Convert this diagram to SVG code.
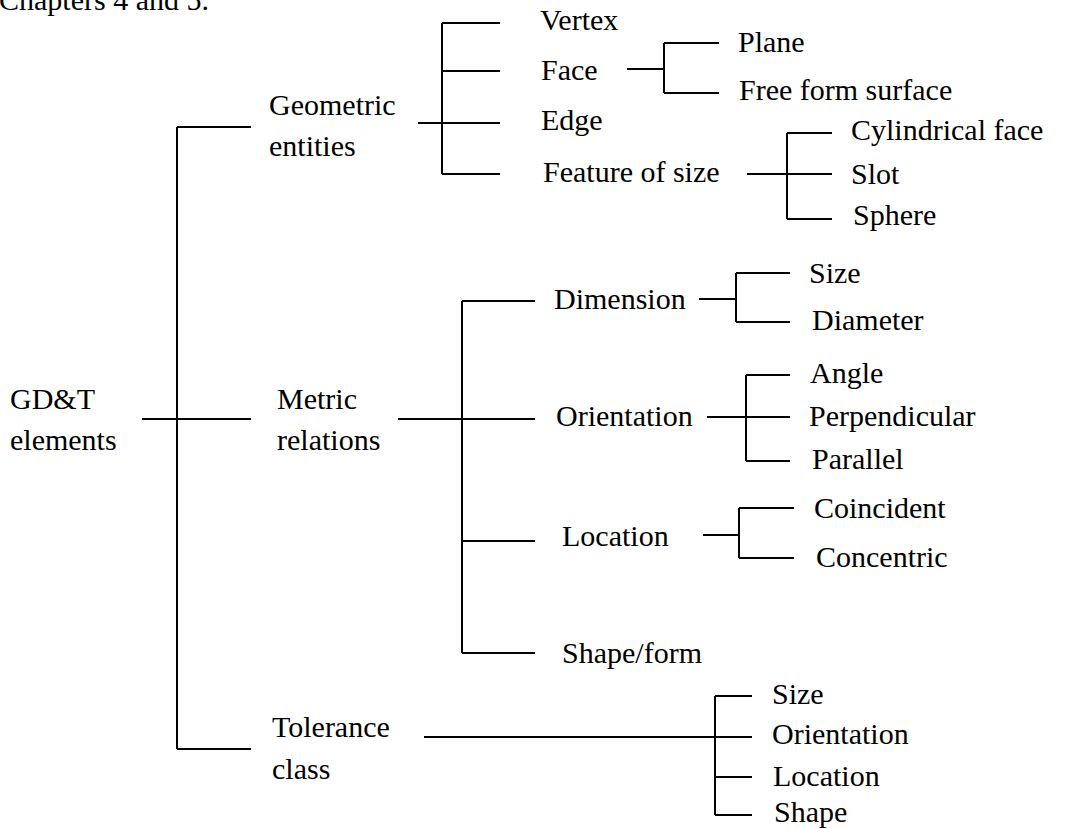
<svg xmlns="http://www.w3.org/2000/svg" width="1070" height="829" viewBox="0 0 1070 829">
<style>
.c line{stroke:#000;stroke-width:2;fill:none}
text{font-family:"Liberation Serif","Times New Roman",serif;font-size:30px;fill:#000}
</style>
<rect width="1070" height="829" fill="#fff"/>
<g class="c" id="connectors">
<line x1="177" y1="127" x2="177" y2="749"/>
<line x1="177" y1="127" x2="251" y2="127"/>
<line x1="142" y1="419" x2="251" y2="419"/>
<line x1="177" y1="749" x2="251" y2="749"/>
<line x1="418" y1="123" x2="442" y2="123"/>
<line x1="442" y1="23" x2="442" y2="174"/>
<line x1="442" y1="23" x2="500" y2="23"/>
<line x1="442" y1="71" x2="500" y2="71"/>
<line x1="442" y1="123" x2="500" y2="123"/>
<line x1="442" y1="174" x2="500" y2="174"/>
<line x1="627" y1="69" x2="664" y2="69"/>
<line x1="664" y1="43" x2="664" y2="93"/>
<line x1="664" y1="43" x2="719" y2="43"/>
<line x1="664" y1="93" x2="719" y2="93"/>
<line x1="747" y1="174" x2="787" y2="174"/>
<line x1="787" y1="133" x2="787" y2="219"/>
<line x1="787" y1="133" x2="832" y2="133"/>
<line x1="787" y1="174" x2="832" y2="174"/>
<line x1="787" y1="219" x2="832" y2="219"/>
<line x1="398" y1="419" x2="462" y2="419"/>
<line x1="462" y1="301" x2="462" y2="653"/>
<line x1="462" y1="301" x2="535" y2="301"/>
<line x1="462" y1="419" x2="535" y2="419"/>
<line x1="462" y1="541" x2="535" y2="541"/>
<line x1="462" y1="653" x2="535" y2="653"/>
<line x1="699" y1="299" x2="736" y2="299"/>
<line x1="736" y1="273" x2="736" y2="322"/>
<line x1="736" y1="273" x2="790" y2="273"/>
<line x1="736" y1="322" x2="790" y2="322"/>
<line x1="707" y1="417" x2="746" y2="417"/>
<line x1="746" y1="375" x2="746" y2="461"/>
<line x1="746" y1="375" x2="790" y2="375"/>
<line x1="746" y1="417" x2="790" y2="417"/>
<line x1="746" y1="461" x2="790" y2="461"/>
<line x1="703" y1="535" x2="739" y2="535"/>
<line x1="739" y1="508" x2="739" y2="558"/>
<line x1="739" y1="508" x2="794" y2="508"/>
<line x1="739" y1="558" x2="794" y2="558"/>
<line x1="424" y1="737" x2="715" y2="737"/>
<line x1="715" y1="696" x2="715" y2="815"/>
<line x1="715" y1="696" x2="752" y2="696"/>
<line x1="715" y1="737" x2="752" y2="737"/>
<line x1="715" y1="777" x2="752" y2="777"/>
<line x1="715" y1="815" x2="752" y2="815"/>
</g>
<g id="caption"><text x="-1" y="10">Chapters 4 and 5.</text></g>
<g id="root"><text x="10" y="409">GD&amp;T</text><text x="10" y="450">elements</text></g>
<g id="geometric"><text x="269" y="115">Geometric</text><text x="269" y="156">entities</text></g>
<g id="vertex"><text x="540" y="30">Vertex</text></g>
<g id="face"><text x="541" y="80">Face</text></g>
<g id="edge"><text x="541" y="130">Edge</text></g>
<g id="feature"><text x="543" y="182">Feature of size</text></g>
<g id="plane"><text x="738" y="52">Plane</text></g>
<g id="freeform"><text x="739" y="100">Free form surface</text></g>
<g id="cylindrical"><text x="851" y="140">Cylindrical face</text></g>
<g id="slot"><text x="851" y="184">Slot</text></g>
<g id="sphere"><text x="853" y="225">Sphere</text></g>
<g id="metric"><text x="277" y="409">Metric</text><text x="277" y="450">relations</text></g>
<g id="dimension"><text x="554" y="309">Dimension</text></g>
<g id="size1"><text x="809" y="283">Size</text></g>
<g id="diameter"><text x="812" y="330">Diameter</text></g>
<g id="orientation"><text x="556" y="426">Orientation</text></g>
<g id="angle"><text x="810" y="383">Angle</text></g>
<g id="perpendicular"><text x="809" y="426">Perpendicular</text></g>
<g id="parallel"><text x="812" y="469">Parallel</text></g>
<g id="location"><text x="562" y="546">Location</text></g>
<g id="coincident"><text x="814" y="518">Coincident</text></g>
<g id="concentric"><text x="816" y="567">Concentric</text></g>
<g id="shapeform"><text x="562" y="663">Shape/form</text></g>
<g id="tolerance"><text x="272" y="737">Tolerance</text><text x="272" y="779">class</text></g>
<g id="tsize"><text x="772" y="704">Size</text></g>
<g id="torientation"><text x="772" y="744">Orientation</text></g>
<g id="tlocation"><text x="773" y="786">Location</text></g>
<g id="tshape"><text x="774" y="822">Shape</text></g>
</svg>
